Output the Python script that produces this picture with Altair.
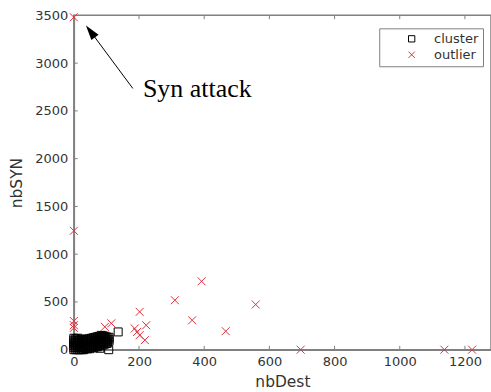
import altair as alt
import pandas as pd

# ---- data ----
cluster_x = [0, 0, 0, 0, 0, 0, 0,
             6, 6, 6, 6, 6, 6, 6,
             12, 12, 12, 12, 12, 12, 12,
             18, 18, 18, 18, 18, 18,
             24, 24, 24, 24, 24, 24, 24,
             30, 30, 30, 30, 30, 30,
             36, 36, 36, 36, 36, 36,
             42, 42, 42, 42, 42, 42,
             48, 48, 48, 48, 48, 48,
             54, 54, 54, 54, 54, 54,
             60, 60, 60, 60, 60, 60,
             66, 66, 66, 66, 66, 66,
             72, 72, 72, 72, 72, 72,
             78, 78, 78, 78, 78, 78,
             84, 84, 84, 84, 84, 84,
             90, 90, 90, 90, 90, 90,
             96, 96, 96, 96, 96,
             102, 102, 102, 102,
             108, 108, 108,
             136, 80, 107, 102]
cluster_y = [0, 20, 40, 60, 80, 100, 120,
             0, 20, 40, 60, 80, 100, 115,
             0, 20, 40, 60, 80, 100, 120,
             0, 20, 40, 60, 80, 100,
             0, 20, 40, 60, 80, 100, 110,
             0, 20, 40, 60, 80, 100,
             10, 30, 50, 70, 90, 110,
             10, 30, 50, 70, 90, 110,
             10, 30, 50, 70, 90, 115,
             20, 40, 60, 80, 100, 120,
             20, 40, 60, 80, 100, 125,
             30, 50, 70, 90, 110, 130,
             30, 50, 70, 90, 110, 135,
             40, 60, 80, 100, 120, 140,
             50, 70, 90, 110, 130, 150,
             50, 70, 90, 110, 130, 145,
             60, 80, 100, 120, 140,
             70, 90, 110, 130,
             90, 110, 130,
             186, 15, 0, 65]

outlier_x = [0, 0, 0, 0, 0, 95, 115, 202, 187, 194, 222, 202, 218,
             310, 392, 363, 466, 558, 696, 1137, 1222]
outlier_y = [3480, 1245, 300, 256, 228, 239, 276, 396, 222, 186, 256, 152, 100,
             518, 716, 308, 194, 473, 0, 0, 0]

x_ticks = [0, 200, 400, 600, 800, 1000, 1200]
y_ticks = [0, 500, 1000, 1500, 2000, 2500, 3000, 3500]

annot_text = ["Syn attack"]
annot_pos = [212, 2644]          # text anchor (data units)
arrow_tail = [181, 2735]         # arrow start (data units)
arrow_head = [51, 3332]          # arrowhead centre (data units)

# ---- tables ----
df = pd.concat([
    pd.DataFrame({"nbDest": cluster_x, "nbSYN": cluster_y, "group": "cluster"}),
    pd.DataFrame({"nbDest": outlier_x, "nbSYN": outlier_y, "group": "outlier"}),
], ignore_index=True)

xt = pd.DataFrame({"t": x_ticks})
yt = pd.DataFrame({"t": y_ticks})

xscale = alt.Scale(domain=[0, 1280], nice=False, zero=False)
yscale = alt.Scale(domain=[0, 3500], nice=False, zero=False)

AX = "#808080"
LBL = "#333333"
RED = "#e0303c"
CROSS = "M-1,-1L1,1M-1,1L1,-1"

points = alt.Chart(df).mark_point(filled=False, size=64, strokeWidth=1, opacity=1).encode(
    x=alt.X("nbDest:Q", scale=xscale,
            axis=alt.Axis(values=x_ticks, format="d", title="nbDest", grid=False, ticks=False,
                          tickSize=0, labelPadding=6, labelFlush=False, labelOverlap=False,
                          labelFontSize=13, labelColor=LBL, labelFont="DejaVu Sans",
                          titleFontSize=15.5, titleFontWeight="normal", titleColor=LBL,
                          titleFont="DejaVu Sans", titlePadding=6,
                          domainColor=AX, domainWidth=1.5)),
    y=alt.Y("nbSYN:Q", scale=yscale,
            axis=alt.Axis(values=y_ticks, format="d", title="nbSYN", grid=False, ticks=False,
                          tickSize=0, labelPadding=6, labelFlush=False, labelOverlap=False,
                          labelFontSize=13, labelColor=LBL, labelFont="DejaVu Sans",
                          titleFontSize=15.5, titleFontWeight="normal", titleColor=LBL,
                          titleFont="DejaVu Sans", titlePadding=10,
                          domainColor=AX, domainWidth=1.5)),
    color=alt.Color("group:N",
                    scale=alt.Scale(domain=["cluster", "outlier"], range=["black", RED]),
                    legend=alt.Legend(title=None, orient="none", legendX=306, legendY=13,
                                      strokeColor=AX, fillColor="white", padding=4,
                                      rowPadding=2, symbolOffset=22, labelOffset=16,
                                      labelFontSize=13, labelColor=LBL, labelFont="DejaVu Sans",
                                      symbolSize=40, symbolStrokeWidth=1, cornerRadius=0)),
    shape=alt.Shape("group:N",
                    scale=alt.Scale(domain=["cluster", "outlier"], range=["square", CROSS]),
                    legend=None),
)

bottom_ticks = alt.Chart(xt).mark_rule(color=AX, strokeWidth=1).encode(
    x=alt.X("t:Q", scale=xscale), y=alt.datum(0), y2=alt.datum(40))
top_ticks = alt.Chart(xt).mark_rule(color=AX, strokeWidth=1).encode(
    x=alt.X("t:Q", scale=xscale), y=alt.datum(3500), y2=alt.datum(3460))
left_ticks = alt.Chart(yt).mark_rule(color=AX, strokeWidth=1).encode(
    y=alt.Y("t:Q", scale=yscale), x=alt.datum(0), x2=alt.datum(12))

ann = pd.DataFrame({"label": annot_text, "x": [annot_pos[0]], "y": [annot_pos[1]],
                    "tx": [arrow_tail[0]], "ty": [arrow_tail[1]],
                    "hx": [arrow_head[0]], "hy": [arrow_head[1]]})

text = alt.Chart(ann).mark_text(font="Liberation Serif", fontSize=26, align="left",
                                baseline="alphabetic", color="black").encode(
    x=alt.X("x:Q", scale=xscale), y=alt.Y("y:Q", scale=yscale), text="label:N")
arrow_line = alt.Chart(ann).mark_rule(color="black", strokeWidth=1).encode(
    x=alt.X("tx:Q", scale=xscale), y=alt.Y("ty:Q", scale=yscale), x2="hx:Q", y2="hy:Q")
arrow_tip = alt.Chart(ann).mark_point(shape="M0,-1L-0.6,1L0.6,1Z", filled=True, size=225,
                                      angle=323, color="black", opacity=1).encode(
    x=alt.X("hx:Q", scale=xscale), y=alt.Y("hy:Q", scale=yscale))

chart = alt.layer(bottom_ticks, top_ticks, left_ticks, points, arrow_line, arrow_tip, text).properties(
    width=418, height=335,
    autosize=alt.AutoSizeParams(type="none"),
    padding={"left": 74, "top": 15, "right": 0, "bottom": 42},
    background="white",
).configure_view(stroke=AX, strokeWidth=1.5)

chart.save("out.html", embed_options={"renderer": "svg", "actions": False})
